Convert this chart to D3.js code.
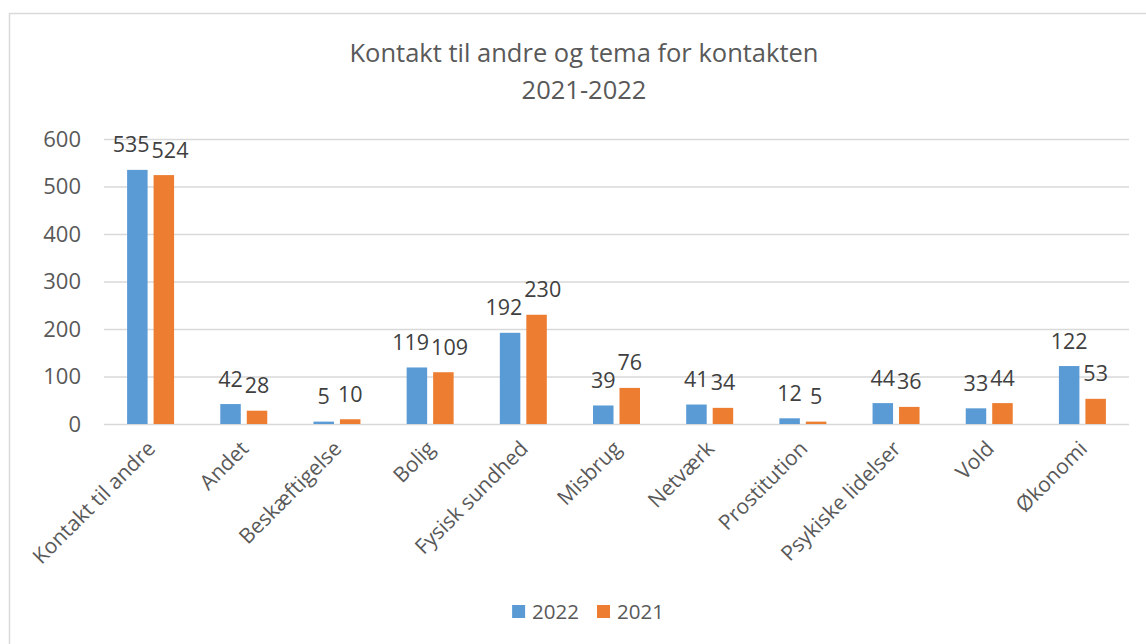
<!DOCTYPE html>
<html>
<head>
<meta charset="utf-8">
<script src="https://cdn.jsdelivr.net/npm/d3@7"></script>
<style>
    body { margin: 0; background: #fff; }
    text { font-family: "Open Sans", sans-serif; }
</style>
</head>
<body>
<script>
var categories = ['Kontakt til andre', 'Andet', 'Beskæftigelse', 'Bolig', 'Fysisk sundhed', 'Misbrug',
    'Netværk', 'Prostitution', 'Psykiske lidelser', 'Vold', 'Økonomi'];
var series = ['2022', '2021'];
var values2022 = [535, 42, 5, 119, 192, 39, 41, 12, 44, 33, 122];
var values2021 = [524, 28, 10, 109, 230, 76, 34, 5, 36, 44, 53];
var yTicks = [0, 100, 200, 300, 400, 500, 600];
var titleLines = ['Kontakt til andre og tema for kontakten', '2021-2022'];

window.onload = () => {

    var width = 1146;
    var height = 644;
    var colors = ['#5b9bd5', '#ed7d31'];
    var left = 104, right = 1129, top = 139, bottom = 424;

    var data = []
    for (var i = 0; i < categories.length; i++) {
        data.push({ cat: categories[i], vals: [values2022[i], values2021[i]] })
    }

    var svg = d3.select("body").append("svg")
        .attr('width', width)
        .attr('height', height)

    // chart frame, right and bottom edges fall outside the picture
    svg.append('rect')
        .attr('x', 9.5).attr('y', 13.5)
        .attr('width', 1160).attr('height', 660)
        .attr('fill', 'none')
        .attr('stroke', '#d9d9d9')
        .attr('stroke-width', 1.5)

    svg.append('text')
        .attr('x', 584)
        .attr('text-anchor', 'middle')
        .attr('fill', '#595959')
        .style('font-size', '25.5px')
        .selectAll('tspan').data(titleLines).enter().append('tspan')
        .attr('x', 584)
        .attr('y', (d, i) => 62 + i * 37)
        .text(d => d)

    var x0 = d3.scaleBand()
        .domain(categories)
        .range([left, right]);
    var x1 = d3.scaleBand()
        .domain(series)
        .range([0, x0.bandwidth()])
        .paddingInner(0.226)
        .paddingOuter(0.872);
    var yscale = d3.scaleLinear()
        .domain([0, 600])
        .range([bottom, top]);

    var y_axis = d3.axisLeft(yscale)
        .tickValues(yTicks)
        .tickSize(-(right - left))
        .tickPadding(23);

    var gy = svg.append('g')
        .attr('transform', 'translate(' + left + ',0)')
        .call(y_axis);
    gy.select('.domain').remove();
    gy.selectAll('line').attr('stroke', '#d9d9d9').attr('stroke-width', 1.5);
    gy.selectAll('text')
        .attr('fill', '#595959')
        .style('font-size', '22px')
        .style('font-family', '"Open Sans", sans-serif');

    var groups = svg.append('g').selectAll('g').data(data).enter().append('g')
        .attr('transform', d => 'translate(' + x0(d.cat) + ',0)');

    groups.selectAll('rect')
        .data(d => d.vals.map((v, j) => ({ key: series[j], value: v })))
        .enter().append('rect')
        .attr('x', d => x1(d.key))
        .attr('y', d => yscale(d.value))
        .attr('width', x1.bandwidth())
        .attr('height', d => bottom - yscale(d.value))
        .attr('fill', (d, j) => colors[j]);

    // data labels, pushed apart sideways when they collide
    groups.each(function (d) {
        var g = d3.select(this);
        var labels = d.vals.map((v, j) => g.append('text')
            .attr('x', x1(series[j]) + x1.bandwidth() / 2)
            .attr('y', yscale(v) - 17.5)
            .attr('text-anchor', 'middle')
            .attr('fill', '#404040')
            .style('font-size', '21.5px')
            .text(v));
        var w0 = labels[0].node().getComputedTextLength();
        var w1 = labels[1].node().getComputedTextLength();
        var c0 = x1(series[0]) + x1.bandwidth() / 2;
        var c1 = x1(series[1]) + x1.bandwidth() / 2;
        var dy = Math.abs(yscale(d.vals[0]) - yscale(d.vals[1]));
        var need = (w0 + w1) / 2 + 2 - (c1 - c0);
        if (dy < 20 && need > 0) {
            labels[0].attr('x', c0 - need / 2);
            labels[1].attr('x', c1 + need / 2);
        }
    });

    svg.append('g').selectAll('text').data(categories).enter().append('text')
        .attr('transform', d => 'translate(' + (x0(d) + x0.bandwidth() / 2 + 6) + ',450) rotate(-45)')
        .attr('text-anchor', 'end')
        .attr('fill', '#595959')
        .style('font-size', '21px')
        .text(d => d);

    // legend
    var legend = svg.append('g');
    var lx = 0;
    series.forEach((s, j) => {
        legend.append('rect')
            .attr('x', lx).attr('y', 605)
            .attr('width', 13).attr('height', 13)
            .attr('fill', colors[j]);
        var t = legend.append('text')
            .attr('x', lx + 20).attr('y', 619)
            .attr('fill', '#595959')
            .style('font-size', '20.5px')
            .text(s);
        lx += 20 + t.node().getComputedTextLength() + 18;
    });
    lx -= 18;
    legend.attr('transform', 'translate(' + (588 - lx / 2) + ',0)');
}
</script>
</body>
</html>
